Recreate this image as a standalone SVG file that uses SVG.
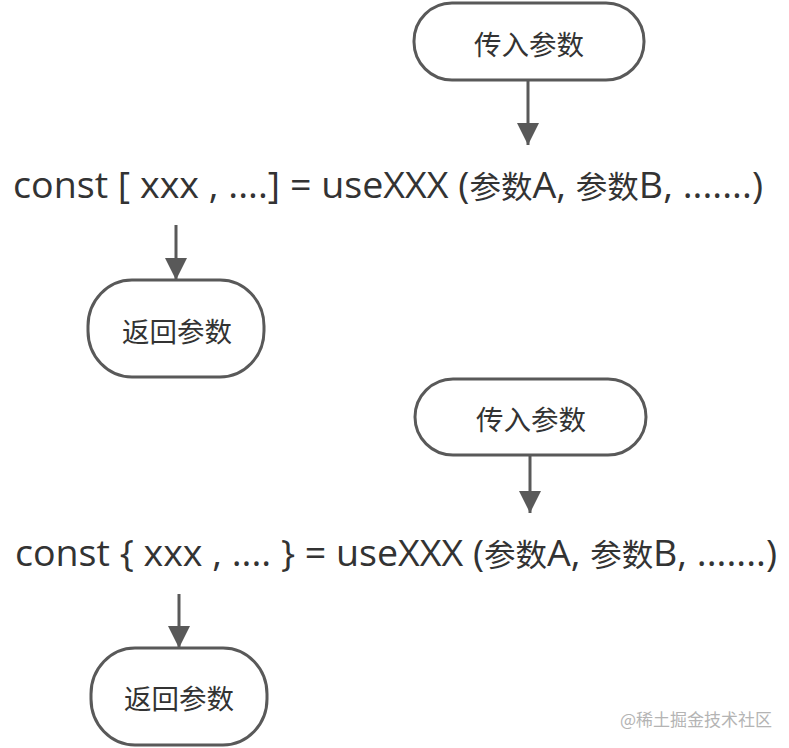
<svg xmlns="http://www.w3.org/2000/svg" width="789" height="748" viewBox="0 0 789 748">
<defs>
<style>
.node{fill:#fff;stroke:#595959;stroke-width:3}
.lbl{font-family:"Noto Sans CJK SC","Noto Sans",sans-serif;font-size:27.5px;fill:#333;text-anchor:middle;dominant-baseline:central}
.code{font-family:"Open Sans","Noto Sans CJK SC",sans-serif;font-size:37px;fill:#333}
.cjk{font-family:"Noto Sans CJK SC",sans-serif;font-size:31px}
.edge{stroke:#595959;stroke-width:3;fill:none}
.wm{font-family:"Noto Sans CJK SC",sans-serif;font-size:17px;fill:#b4b4b4}
</style>
<marker id="arr" viewBox="0 0 22 22" refX="22" refY="11" markerWidth="22" markerHeight="22" markerUnits="userSpaceOnUse" orient="auto">
<path d="M0,0 L22,11 L0,22 Z" fill="#595959"/>
</marker>
</defs>
<rect width="789" height="748" fill="#fff"/>
<g id="connectors">
<line class="edge" x1="528" y1="80" x2="528" y2="145" marker-end="url(#arr)"/>
<line class="edge" x1="176" y1="225" x2="176" y2="280" marker-end="url(#arr)"/>
<line class="edge" x1="530" y1="455" x2="530" y2="513" marker-end="url(#arr)"/>
<line class="edge" x1="179" y1="594" x2="179" y2="648" marker-end="url(#arr)"/>
</g>
<g id="input1">
<rect class="node" x="414" y="3" width="230" height="77" rx="38" ry="38"/>
<text class="lbl" x="529" y="43">传入参数</text>
</g>
<g id="code1">
<text class="code" x="13" y="198" textLength="750" lengthAdjust="spacingAndGlyphs">const [ xxx , ....] = useXXX (<tspan class="cjk">参数</tspan>A, <tspan class="cjk">参数</tspan>B, .......)</text>
</g>
<g id="return1">
<rect class="node" x="88" y="280" width="176" height="97" rx="44" ry="46"/>
<text class="lbl" x="177" y="330">返回参数</text>
</g>
<g id="input2">
<rect class="node" x="415" y="379" width="231" height="76" rx="38" ry="38"/>
<text class="lbl" x="531" y="418">传入参数</text>
</g>
<g id="code2">
<text class="code" x="15" y="566" textLength="762" lengthAdjust="spacingAndGlyphs">const { xxx , .... } = useXXX (<tspan class="cjk">参数</tspan>A, <tspan class="cjk">参数</tspan>B, .......)</text>
</g>
<g id="return2">
<rect class="node" x="91" y="648" width="176" height="97" rx="44" ry="46"/>
<text class="lbl" x="179" y="697">返回参数</text>
</g>
<text class="wm" x="620" y="726">@稀土掘金技术社区</text>
</svg>
